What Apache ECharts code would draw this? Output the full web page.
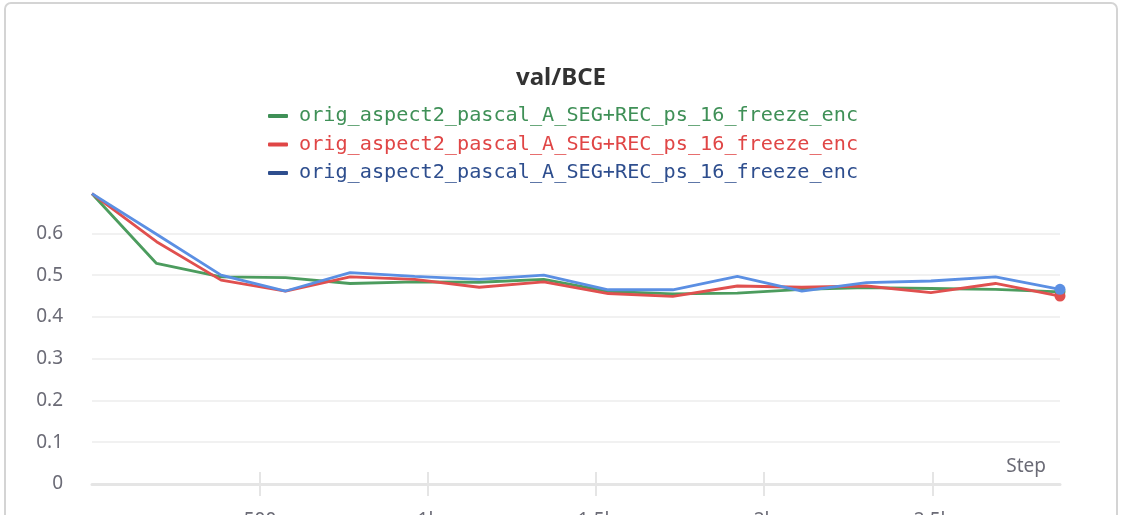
<!DOCTYPE html>
<html>
<head>
<meta charset="utf-8">
<script src="https://cdn.jsdelivr.net/npm/echarts@6/dist/echarts.min.js"></script>
<style>
  html, body { margin: 0; padding: 0; background: #fff; overflow: hidden; }
  #card { position: absolute; left: 4px; top: 2px; width: 1114px; height: 560px;
          border: 2px solid #d4d4d4; border-radius: 7px; box-sizing: border-box; }
  #chart { position: absolute; left: 0; top: 0; width: 1122px; height: 515px; }
</style>
</head>
<body>
<div id="card"></div>
<div id="chart"></div>
<script>
// Validation BCE per evaluation step, three runs
const runName = 'orig_aspect2_pascal_A_SEG+REC_ps_16_freeze_enc';
const steps = [0, 192, 384, 576, 768, 960, 1152, 1344, 1536, 1728, 1920, 2112, 2304, 2496, 2688, 2880];
const greenRun = [0.695, 0.528, 0.496, 0.494, 0.480, 0.484, 0.483, 0.490, 0.461, 0.455, 0.457, 0.466, 0.470, 0.468, 0.466, 0.460];
const redRun   = [0.695, 0.580, 0.488, 0.462, 0.496, 0.490, 0.471, 0.484, 0.456, 0.449, 0.474, 0.471, 0.474, 0.458, 0.480, 0.450];
const blueRun  = [0.695, 0.598, 0.500, 0.462, 0.506, 0.497, 0.490, 0.500, 0.465, 0.465, 0.497, 0.462, 0.482, 0.486, 0.496, 0.466];
const stepTicks = [500, 1000, 1500, 2000, 2500];

const lineColors = ['#4c9c5e', '#e0504f', '#5b8fe3'];
const legendColors = ['#3f9057', '#e04646', '#2e4e8e'];
const axisGray = '#6b6b76';

function pairs(ys) { return steps.map((s, i) => [s, ys[i]]); }
function fmtStep(v) { return v >= 1000 ? (v / 1000) + 'k' : String(v); }

const runs = [greenRun, redRun, blueRun];
const series = runs.map((ys, k) => ({
  name: runName + '\u200b'.repeat(k),
  type: 'line',
  data: pairs(ys),
  showSymbol: true,
  symbol: 'circle',
  symbolSize: (v, p) => (p.dataIndex === ys.length - 1 ? 11 : 0),
  itemStyle: { color: lineColors[k] },
  lineStyle: { color: lineColors[k], width: 2.8 },
  emphasis: { disabled: true },
  animation: false,
  z: 3 + k
}));

const chart = echarts.init(document.getElementById('chart'), null, { renderer: 'canvas' });
chart.setOption({
  animation: false,
  title: {
    text: 'val/BCE', left: 'center', top: 61,
    textStyle: { fontFamily: 'Noto Sans', fontSize: 24, fontWeight: 'bold', color: '#333' }
  },
  legend: {
    orient: 'vertical', left: 263, top: 101,
    itemWidth: 20, itemHeight: 4, itemGap: 8.5,
    icon: 'roundRect',
    selectedMode: false,
    data: series.map((s, k) => ({
      name: s.name,
      itemStyle: { color: legendColors[k] },
      textStyle: { color: legendColors[k] }
    })),
    textStyle: { fontFamily: 'DejaVu Sans Mono', fontSize: 20.2, lineHeight: 20, padding: [0, 0, 0, 6] }
  },
  grid: { left: 92, right: 62, top: 191.6, bottom: 31, containLabel: false, outerBoundsMode: 'none' },
  xAxis: [{
    type: 'value', min: 0, max: 2880,
    name: 'Step', nameLocation: 'end', nameGap: -14,
    nameTextStyle: { fontFamily: 'Noto Sans', fontSize: 19, color: axisGray, align: 'right', verticalAlign: 'bottom', padding: [0, 0, 8, 0] },
    axisLine: { show: true, lineStyle: { color: '#e5e5e5', width: 3 } },
    axisTick: { show: true, length: 12, customValues: stepTicks, lineStyle: { color: '#e5e5e5', width: 2 } },
    axisLabel: { show: true, margin: 27, customValues: stepTicks, formatter: fmtStep,
                 fontFamily: 'Noto Sans', fontSize: 19, color: axisGray },
    splitLine: { show: false }
  }, {
    type: 'value', min: 0, max: 2880, position: 'bottom',
    axisLine: { show: false },
    axisTick: { show: true, inside: true, length: 12, customValues: stepTicks, lineStyle: { color: '#e5e5e5', width: 2 } },
    axisLabel: { show: false },
    splitLine: { show: false }
  }],
  yAxis: {
    type: 'value', min: 0, max: 0.7, interval: 0.1,
    axisLine: { show: false },
    axisTick: { show: false },
    axisLabel: { margin: 29, showMaxLabel: false, fontFamily: 'Noto Sans', fontSize: 19, color: axisGray,
                 formatter: v => (Math.round(v * 10) / 10).toString() },
    splitLine: { show: true, showMinLine: false, showMaxLine: false, lineStyle: { color: '#ededed', width: 1.5 } }
  },
  series: series
});
</script>
</body>
</html>
